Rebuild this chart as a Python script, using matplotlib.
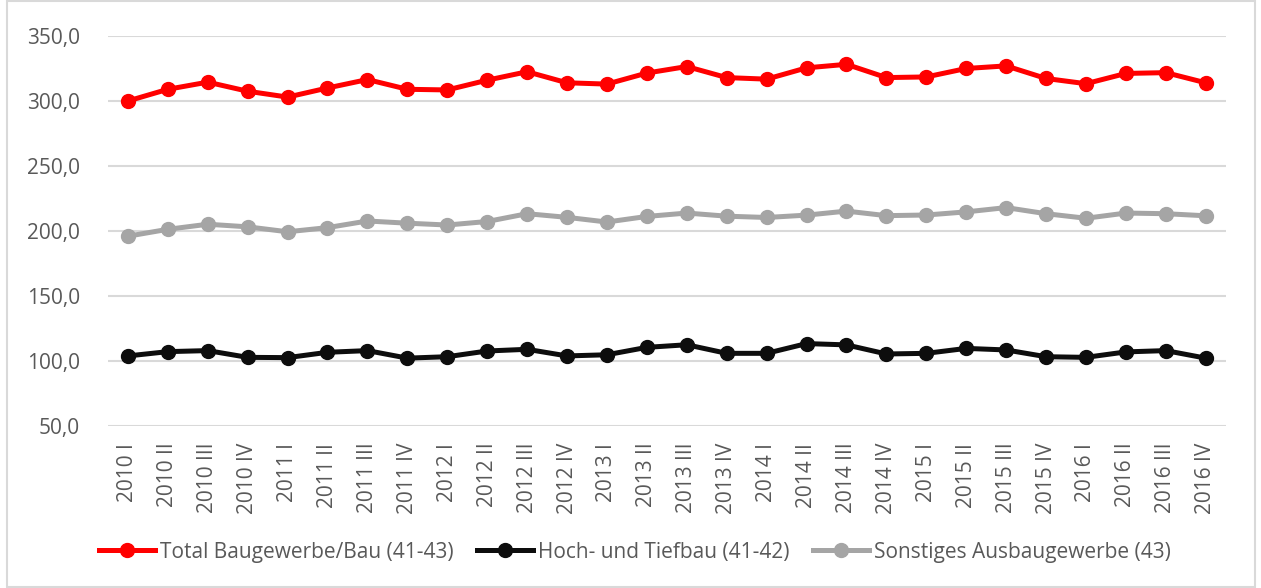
import numpy as np
import matplotlib.pyplot as plt
from matplotlib.ticker import FuncFormatter
from matplotlib.patches import Rectangle

quarters = ["2010 I", "2010 II", "2010 III", "2010 IV",
            "2011 I", "2011 II", "2011 III", "2011 IV",
            "2012 I", "2012 II", "2012 III", "2012 IV",
            "2013 I", "2013 II", "2013 III", "2013 IV",
            "2014 I", "2014 II", "2014 III", "2014 IV",
            "2015 I", "2015 II", "2015 III", "2015 IV",
            "2016 I", "2016 II", "2016 III", "2016 IV"]

total_bau = [300.0, 309.0, 314.5, 307.5, 303.0, 310.0, 316.5, 309.0,
             308.5, 316.0, 322.5, 314.0, 313.0, 321.5, 326.5, 318.0,
             316.8, 325.5, 328.2, 318.0, 318.5, 325.0, 327.0, 317.3,
             313.3, 321.2, 321.8, 314.0]
hoch_tief = [103.9, 107.2, 108.0, 102.8, 102.6, 106.7, 108.0, 102.2,
             103.3, 107.7, 109.0, 103.9, 104.8, 110.5, 112.5, 105.9,
             105.9, 113.4, 112.4, 105.4, 105.9, 109.7, 108.5, 103.3,
             102.8, 107.0, 108.0, 102.2]
sonstiges = [196.0, 201.3, 205.2, 203.2, 199.4, 202.6, 207.7, 206.0,
             204.6, 207.3, 213.3, 210.5, 206.9, 211.2, 213.8, 211.4,
             210.4, 212.2, 215.3, 211.8, 212.3, 214.7, 218.0, 213.3,
             209.8, 213.8, 213.3, 211.7]

plt.rcParams['font.family'] = ['Open Sans', 'DejaVu Sans']
text_col = '#595959'

fig = plt.figure(figsize=(12.61, 5.88), dpi=100)
ax = fig.add_axes([0.0856, 0.2755, 0.972 - 0.0856, 0.9388 - 0.2755])

x = np.arange(len(quarters))
ax.plot(x, total_bau, color='#ff0000', lw=3.6, marker='o', ms=10,
        label='Total Baugewerbe/Bau (41-43)', zorder=3)
ax.plot(x, hoch_tief, color='#0d0d0d', lw=3.6, marker='o', ms=10,
        label='Hoch- und Tiefbau (41-42)', zorder=3)
ax.plot(x, sonstiges, color='#a5a5a5', lw=3.6, marker='o', ms=10,
        label='Sonstiges Ausbaugewerbe (43)', zorder=3)

ax.set_xlim(-0.5, len(quarters) - 0.5)
ax.set_ylim(50, 350)
ax.set_yticks(np.arange(50, 351, 50))
ax.yaxis.set_major_formatter(FuncFormatter(lambda v, p: f"{v:.1f}".replace('.', ',')))
ax.set_xticks(x)
ax.set_xticklabels(quarters, rotation=90)
ax.grid(axis='y', color='#d9d9d9', lw=1.5)
ax.set_axisbelow(True)
for s in ax.spines.values():
    s.set_visible(False)
ax.tick_params(length=0, labelsize=15, colors=text_col)
ax.tick_params(axis='x', pad=12)
ax.tick_params(axis='y', pad=20)

leg = fig.legend(loc='center', bbox_to_anchor=(0.5036, 0.061), ncol=3,
                 frameon=False, fontsize=15, handlelength=2.65,
                 columnspacing=1.15, handletextpad=0.25)
for t in leg.get_texts():
    t.set_color(text_col)

fig.patches.append(Rectangle((7 / 1261, 1 / 588), 1248 / 1261, 586 / 588,
                             transform=fig.transFigure, fill=False,
                             edgecolor='#d9d9d9', lw=1.5))

fig.savefig('out.png', dpi=100)
